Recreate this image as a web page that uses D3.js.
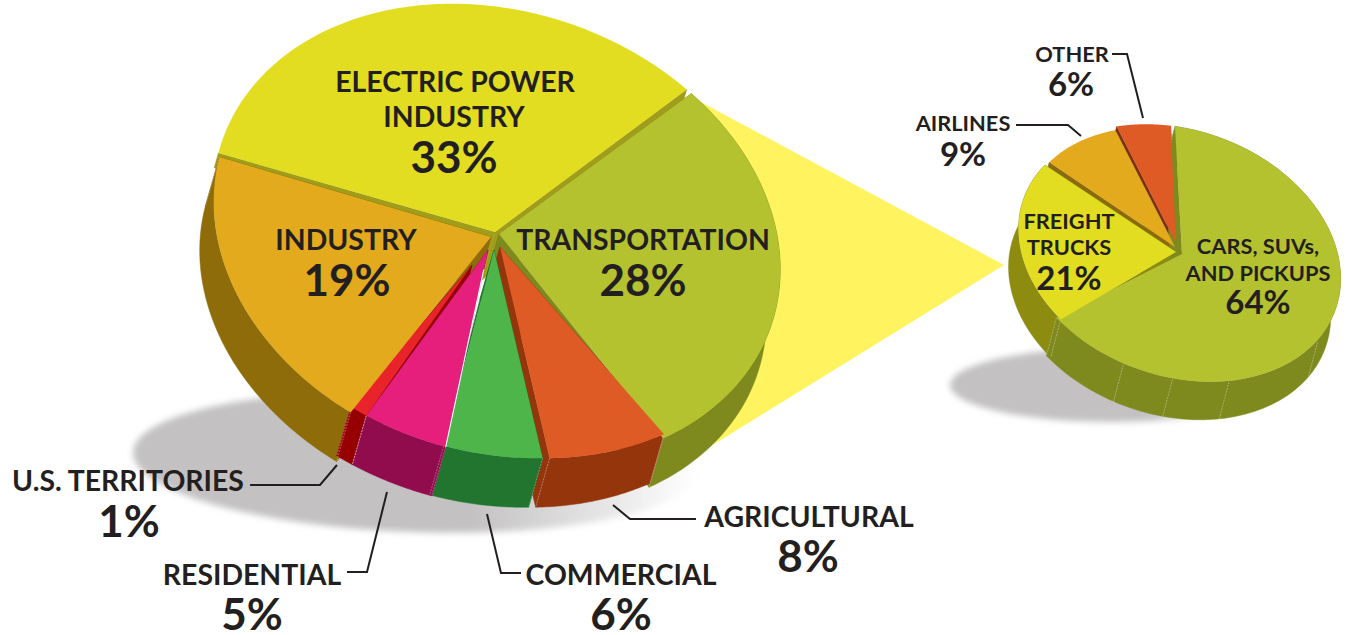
<!DOCTYPE html>
<html>
<head>
<meta charset="utf-8">
<script src="https://cdn.jsdelivr.net/npm/d3@7"></script>
<style>
    html, body { margin: 0; padding: 0; background: #fff; }
    svg { display: block; }
    text { font-family: Lato, "Open Sans", sans-serif; font-weight: 700; fill: #231f20; text-anchor: middle; }
</style>
</head>
<body>
<svg id="chart" width="1346" height="635"></svg>
<script>
// source shares, main pie
var sourceNames = ['Electric power industry', 'Transportation', 'Agricultural', 'Commercial', 'Residential', 'U.S. territories', 'Industry'];
var sourceValues = [33, 28, 8, 6, 5, 1, 19];

// breakdown of transportation, small pie
var transportNames = ['Cars, SUVs, and pickups', 'Freight trucks', 'Airlines', 'Other'];
var transportValues = [64, 21, 9, 6];

var sourceFills = ['#e2dd21', '#b5c22f', '#df5b26', '#4eb54b', '#e61f7c', '#e8232a', '#e2aa1c'];
var sourceWalls = ['#a09d1a', '#7f8a1e', '#94350c', '#21752f', '#900c4c', '#960000', '#8e6c0a'];
var transportFills = ['#b5c22f', '#e2dd21', '#e2aa1c', '#df5b26'];
var transportWalls = ['#7f8a1e', '#8d8b10', '#8a6a0a', '#7c2e0c'];

var svg = d3.select('#chart');
var defs = svg.append('defs');

/**
 * Point on the rim of a tilted pie
 * @param p the pie settings
 * @param a angle, clockwise from the top of the unrotated ellipse
 * @param r radius factor
 */
function rimPoint(p, a, r) {
    var x = p.rx * r * Math.sin(a);
    var y = -p.ry * r * Math.cos(a);
    var t = p.tilt * Math.PI / 180;
    return [p.cx + x * Math.cos(t) - y * Math.sin(t), p.cy + x * Math.sin(t) + y * Math.cos(t)];
}

var line = d3.line();

function closed(points) {
    return line(points) + 'Z';
}

/**
 * Draws one extruded pie: all the walls first, then the top faces
 */
function drawPie(p) {
    var g = svg.append('g');
    var rad = Math.PI / 180;
    var start = p.start * rad;
    var arcs = d3.pie().sort(null).startAngle(start).endAngle(start + 2 * Math.PI)(p.values);

    var shapes = arcs.map(function (d, i) {
        var off = p.rimOffset[i];
        // the drawn slices are not cut quite true, so each end gets a small nudge
        var a0 = d.startAngle + p.startNudge[i] * rad;
        var a1 = d.endAngle + p.endNudge[i] * rad;
        var rim = d3.range(61).map(function (k) {
            var pt = rimPoint(p, a0 + (a1 - a0) * k / 60, p.radius[i]);
            return [pt[0] + off[0], pt[1] + off[1]];
        });
        var apex = [p.cx + p.apex[i][0], p.cy + p.apex[i][1]];
        return { rim: rim, apex: apex };
    });

    function down(pt, k) {
        return [pt[0] + p.depth[0] * k, pt[1] + p.depth[1] * k];
    }

    p.wallOrder.forEach(function (i) {
        var s = shapes[i];
        var first = s.rim[0];
        var last = s.rim[s.rim.length - 1];
        // a slice at the back shows no outer wall, only a short band in the gaps
        var back = p.noOuterWall.indexOf(i) >= 0;
        var k = back ? 0.3 : 1;
        var polys = [
            [s.apex, first, down(first, k), down(s.apex, 1)],
            [s.apex, last, down(last, k), down(s.apex, 1)]
        ];
        if (!back) {
            polys.push(s.rim.concat(s.rim.map(function (pt) { return down(pt, 1); }).reverse()));
        }
        polys.forEach(function (poly) {
            g.append('path')
                .attr('d', closed(poly))
                .attr('fill', p.walls[i])
                .attr('stroke', p.walls[i])
                .attr('stroke-width', 0.5);
        });
    });

    // thin light seams down the wall
    var seams = [];
    shapes.forEach(function (s, i) {
        if (p.noOuterWall.indexOf(i) < 0) {
            seams.push(s.rim[0]);
            seams.push(s.rim[s.rim.length - 1]);
        }
    });
    p.extraSeams.forEach(function (deg) {
        seams.push(rimPoint(p, deg * rad, 1));
    });
    seams.forEach(function (pt) {
        g.append('path')
            .attr('d', line([pt, down(pt, 1)]))
            .attr('stroke', '#fff')
            .attr('stroke-opacity', 0.4)
            .attr('stroke-width', 0.8)
            .attr('stroke-dasharray', '2 1')
            .attr('fill', 'none');
    });

    g.selectAll('.top')
        .data(shapes)
        .enter()
        .append('path')
        .attr('class', 'top')
        .attr('d', function (s) { return closed([s.apex].concat(s.rim)); })
        .attr('fill', function (s, i) { return p.fills[i]; });

    return shapes;
}

/**
 * Soft grey ground shadow that fades out to the right
 */
function drawShadow(id, cx, cy, rx, ry, tilt) {
    var grad = defs.append('linearGradient').attr('id', id + 'Fade');
    grad.append('stop').attr('offset', '0.6').attr('stop-color', '#c3c1c2');
    grad.append('stop').attr('offset', '1').attr('stop-color', '#c3c1c2').attr('stop-opacity', 0);
    defs.append('filter').attr('id', id + 'Blur')
        .attr('x', '-10%').attr('y', '-20%').attr('width', '120%').attr('height', '140%')
        .append('feGaussianBlur').attr('stdDeviation', 3);
    svg.append('ellipse')
        .attr('cx', cx).attr('cy', cy).attr('rx', rx).attr('ry', ry)
        .attr('transform', 'rotate(' + tilt + ' ' + cx + ' ' + cy + ')')
        .attr('fill', 'url(#' + id + 'Fade)')
        .attr('filter', 'url(#' + id + 'Blur)');
}

// yellow band linking the transportation slice to the small pie
svg.append('path')
    .attr('d', closed([[688, 95], [1004, 265], [672, 470]]))
    .attr('fill', '#fff35f');

drawShadow('mainShadow', 415, 462, 282, 70, 2);
drawShadow('miniShadow', 1112, 385, 162, 37, 0);

var mainShapes = drawPie({
    cx: 496, cy: 231, rx: 289, ry: 222, tilt: 18, start: -92.5,
    depth: [-14, 49],
    values: sourceValues,
    fills: sourceFills,
    walls: sourceWalls,
    apex: [[-1, 1], [3, 3], [4, 16], [-2, 19], [-8, 19], [-24, 34], [-5, 6]],
    rimOffset: [[0, 2], [1, 3], [4, -2], [-3, -2], [-1, -1], [-1, -1], [1, 6]],
    radius: [1, 1, 1, 1, 1, 1, 1],
    startNudge: [0, 3, 3.5, 0, -1.5, -2.5, -2],
    endNudge: [2, 3, 0, -1.5, -2.5, -2.5, 0],
    wallOrder: [0, 1, 2, 3, 6, 5, 4],
    noOuterWall: [0],
    extraSeams: []
});

// white hairline between the residential and commercial slices
var pinkEdge = mainShapes[4];
var pinkEnd = pinkEdge.rim[0];
svg.append('path')
    .attr('d', line([pinkEnd, d3.interpolate(pinkEnd, pinkEdge.apex)(0.9)]))
    .attr('stroke', '#fff')
    .attr('stroke-width', 1.1);

drawPie({
    cx: 1178, cy: 253, rx: 169, ry: 124, tilt: 20, start: -16.5,
    depth: [-10, 38],
    values: transportValues,
    fills: transportFills,
    walls: transportWalls,
    apex: [[4, 1], [-2, -1], [-3, -6], [-2, -10]],
    rimOffset: [[0, 0], [0, 1], [0, -2], [0, 0]],
    radius: [0.99, 0.97, 0.95, 0.99],
    startNudge: [0.5, -1.5, 0, 1],
    endNudge: [-0.5, -1, -0.5, -1],
    wallOrder: [3, 2, 1, 0],
    noOuterWall: [2, 3],
    extraSeams: [184.5, 167, 147, 107]
});

// leader lines
var leaders = [
    [[250, 485], [320, 485], [337, 465]],
    [[347, 572], [367, 572], [387, 492]],
    [[487, 514], [501, 573], [521, 573]],
    [[613, 505], [630, 519], [696, 519]],
    [[1016, 125], [1068, 125], [1081, 136]],
    [[1112, 54], [1127, 54], [1143, 118]]
];
svg.selectAll('.leader')
    .data(leaders)
    .enter()
    .append('path')
    .attr('class', 'leader')
    .attr('d', function (d) { return line(d); })
    .attr('fill', 'none')
    .attr('stroke', '#231f20')
    .attr('stroke-width', 2);

// text, font size per line
var labels = [
    ['ELECTRIC POWER', 455, 92, 28.4], ['INDUSTRY', 454, 127, 28.4], ['33%', 454, 173, 44],
    ['INDUSTRY', 346, 250, 28.4], ['19%', 347, 296, 44],
    ['TRANSPORTATION', 643, 250, 28.4], ['28%', 643, 296, 44],
    ['U.S. TERRITORIES', 128, 491, 28.4], ['1%', 129, 537, 44],
    ['RESIDENTIAL', 252, 585, 28.4], ['5%', 252, 630, 44],
    ['COMMERCIAL', 621, 585, 28.4], ['6%', 621, 630, 44],
    ['AGRICULTURAL', 809, 527, 28.4], ['8%', 808, 572, 44],
    ['OTHER', 1072, 62, 21.8], ['6%', 1071, 96, 33],
    ['AIRLINES', 963, 131, 21.8], ['9%', 963, 166, 33],
    ['FREIGHT', 1069, 229, 21.8], ['TRUCKS', 1069, 255, 21.8], ['21%', 1069, 290, 33],
    ['CARS, SUVs,', 1258, 254, 21.8], ['AND PICKUPS', 1258, 281, 21.8], ['64%', 1258, 314, 33]
];
svg.selectAll('.label')
    .data(labels)
    .enter()
    .append('text')
    .attr('class', 'label')
    .attr('x', function (d) { return d[1]; })
    .attr('y', function (d) { return d[2]; })
    .attr('font-size', function (d) { return d[3]; })
    .text(function (d) { return d[0]; });
</script>
</body>
</html>
